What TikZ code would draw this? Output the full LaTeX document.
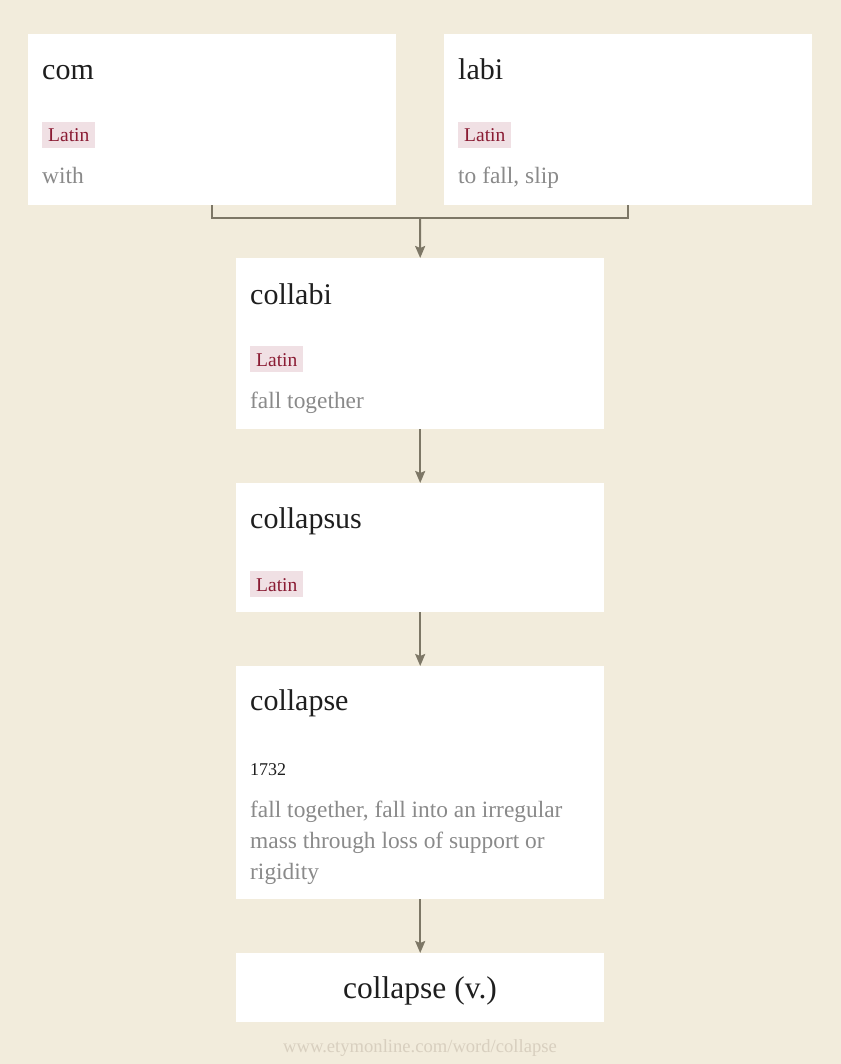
\documentclass[tikz,border=0pt]{standalone}
\usepackage{fontspec}
\setmainfont{Liberation Serif}
\usetikzlibrary{arrows.meta}
\definecolor{bgc}{HTML}{F2ECDC}
\definecolor{linec}{HTML}{7D7766}
\definecolor{tagbg}{HTML}{F0E0E4}
\definecolor{tagfg}{HTML}{8A1B33}
\definecolor{grayt}{HTML}{8A8A8A}
\definecolor{titlec}{HTML}{1E1E1E}
\definecolor{footc}{HTML}{D8CFBF}
\tikzset{
  card/.style={fill=white, draw=none, anchor=north west, inner sep=0pt},
  wordt/.style={anchor=base west, inner sep=0pt, text=titlec, font=\fontsize{30}{34}\selectfont},
  tagt/.style={anchor=base west, fill=tagbg, text=tagfg, inner xsep=6pt, inner ysep=0pt, text height=20pt, text depth=6pt, font=\fontsize{19.5}{22}\selectfont},
  glosst/.style={anchor=base west, inner sep=0pt, text=grayt, align=left, font=\fontsize{23.4}{31}\selectfont},
  datet/.style={anchor=base west, inner sep=0pt, text=titlec, font=\fontsize{18}{22}\selectfont},
  conn/.style={draw=linec, line width=2pt},
  arr/.style={conn, -{Stealth[length=12pt,width=10pt,inset=2pt]}},
}
\begin{document}
\begin{tikzpicture}[x=1pt,y=-1pt]
\useasboundingbox (0,0) rectangle (840,1064);
\fill[bgc] (-6,-6) rectangle (846,1070);
% cards
\node[card, minimum width=368pt, minimum height=171pt] (com) at (28,34) {};
\node[card, minimum width=368pt, minimum height=171pt] (labi) at (444,34) {};
\node[card, minimum width=368pt, minimum height=171pt] (collabi) at (236,258) {};
\node[card, minimum width=368pt, minimum height=129pt] (collapsus) at (236,483) {};
\node[card, minimum width=368pt, minimum height=233pt] (collapse) at (236,666) {};
\node[card, minimum width=368pt, minimum height=69pt] (final) at (236,953) {};
% com
\node[wordt] (comw) at (42,80) {com};
\node[tagt] (comtag) at (42,142) {Latin};
\node[glosst] (comg) at (42,184) {with};
% labi
\node[wordt] (labiw) at (458,80) {labi};
\node[tagt] (labitag) at (458,142) {Latin};
\node[glosst] (labig) at (458,184) {to fall, slip};
% collabi
\node[wordt] (collabiw) at (250,304) {collabi};
\node[tagt] (collabitag) at (250,366) {Latin};
\node[glosst] (collabig) at (250,408) {fall together};
% collapsus
\node[wordt] (collapsusw) at (250,528) {collapsus};
\node[tagt] (collapsustag) at (250,591) {Latin};
% collapse
\node[wordt] (collapsew) at (250,710) {collapse};
\node[datet] (collapsed) at (250,775) {1732};
\node[glosst, anchor=north west] (collapseg) at (250,796) {\strut fall together, fall into an irregular\\mass through loss of support or\\rigidity};
% final
\node[anchor=base, inner sep=0pt, text=titlec, font=\fontsize{31.5}{34}\selectfont] (finalw) at (420,998) {collapse (v.)};
% footer
\node[anchor=base, inner sep=0pt, text=footc, font=\fontsize{18.6}{22}\selectfont] (foot) at (420,1052) {www.etymonline.com/word/collapse};
% connectors
\coordinate (j) at (420,218);
\draw[conn] (com.south) |- (j) -| (labi.south);
\draw[arr] (j) -- (collabi.north);
\draw[arr] (collabi.south) -- (collapsus.north);
\draw[arr] (collapsus.south) -- (collapse.north);
\draw[arr] (collapse.south) -- (final.north);
\end{tikzpicture}
\end{document}
